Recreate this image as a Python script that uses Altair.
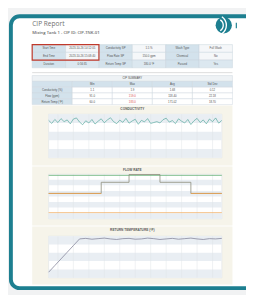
import altair as alt
import pandas as pd

# ---------------- values ----------------
report_title = "CIP Report"
report_subtitle = "Mixing Tank 1 - CIP ID: CIP-TNK-01"

info_rows = [
    ["Start Time", "2023-10-26 14:12:05", "Conductivity SP", "1.5 %", "Wash Type", "Full Wash"],
    ["End Time", "2023-10-26 15:08:40", "Flow Rate SP", "150.0 gpm", "Chemical", "No"],
    ["Duration", "0:56:35", "Return Temp SP", "180.0 °F", "Passed", "Yes"],
]
highlight_rows = [0, 1]
highlight_cols = [0, 1]

summary_title = "CIP SUMMARY"
summary_columns = ["", "Min", "Max", "Avg", "Std Dev"]
summary_labels = ["Conductivity (%)", "Flow (gpm)", "Return Temp (°F)"]
summary_min = ["1.1", "91.0", "60.0"]
summary_max = ["1.9", "159.0", "183.0"]
summary_avg = ["1.68", "118.40", "171.02"]
summary_std = ["0.12", "22.18", "18.70"]
summary_max_alert = [False, True, True]

run_day = "2023-10-26"
chart_start = "14:12"
chart_end = "15:08"
grid_times = ["14:15", "14:20", "14:25", "14:30", "14:35", "14:40",
              "14:45", "14:50", "14:55", "15:00", "15:05"]

cond_title = "CONDUCTIVITY"
cond_unit = "%"
cond_ticks = [0.0, 0.4, 0.8, 1.2, 1.6, 2.0]
cond_values = [1.72, 1.58, 1.76, 1.62, 1.80, 1.66, 1.74, 1.56, 1.78, 1.83,
               1.64, 1.52, 1.70, 1.60, 1.76, 1.55, 1.68, 1.79, 1.61, 1.74,
               1.84, 1.66, 1.57, 1.73, 1.63, 1.81, 1.59, 1.69, 1.77, 1.54,
               1.72, 1.65, 1.80, 1.58, 1.62, 1.66, 1.60, 1.75, 1.82, 1.64,
               1.71, 1.57, 1.79, 1.68, 1.60, 1.76, 1.53, 1.70, 1.81, 1.62,
               1.74, 1.56, 1.78, 1.66, 1.83, 1.59, 1.72]

flow_title = "FLOW RATE"
flow_unit = "gpm"
flow_ticks = [0, 20, 40, 60, 80, 100, 120, 140, 160]
flow_times = ["14:12", "14:29", "14:29", "14:38", "14:38", "14:48", "14:48", "14:58", "14:58", "15:08"]
flow_values = [91, 91, 131, 131, 159, 159, 131, 131, 91, 91]
flow_low_times = ["14:12", "14:29", "14:58", "15:08"]
flow_low_values = [91, 91, 91, 91]
flow_low_phase = ["pre-rinse", "pre-rinse", "final rinse", "final rinse"]
flow_setpoint = 156
flow_low_limit = 22

temp_title = "RETURN TEMPERATURE (°F)"
temp_unit = "°F"
temp_ticks = [40, 70, 100, 130, 160, 190]
temp_times = ["14:12", "14:14", "14:16", "14:18", "14:20", "14:22", "14:24", "14:26",
              "14:28", "14:30", "14:32", "14:34", "14:36", "14:38", "14:40", "14:42",
              "14:44", "14:46", "14:48", "14:50", "14:52", "14:54", "14:56", "14:58",
              "15:00", "15:02", "15:04", "15:06", "15:08"]
temp_values = [60, 84, 108, 132, 156, 180, 182, 179, 181, 183, 180, 178, 181, 182, 179,
               180, 183, 181, 178, 180, 182, 179, 181, 183, 180, 178, 181, 180, 182]

# ---------------- helpers ----------------
W, H = 246, 287
TEAL = "#1d7f90"
one = pd.DataFrame({"k": [0]})
Y_, M_, D_ = (int(p) for p in run_day.split("-"))


def ts(hhmm):
    return pd.Timestamp(f"{run_day} {hhmm}")


def dt(hhmm):
    h, m = (int(p) for p in hhmm.split(":"))
    return alt.DateTime(year=Y_, month=M_, date=D_, hours=h, minutes=m)


layers = []

# page frame
layers.append(alt.Chart(one).mark_rect(fill="white", stroke=TEAL, strokeWidth=4, cornerRadius=9)
              .encode(x=alt.value(3), x2=alt.value(262), y=alt.value(3.7), y2=alt.value(284.7)))

# header
layers.append(alt.Chart(one).mark_text(text=report_title, align="left", baseline="alphabetic",
                                       font="Open Sans", fontSize=6.8, color="#707070")
              .encode(x=alt.value(25), y=alt.value(13.5)))
layers.append(alt.Chart(one).mark_text(text=report_subtitle, align="left", baseline="alphabetic",
                                       font="Open Sans", fontSize=4.3, fontWeight=600, color="#666666")
              .encode(x=alt.value(25), y=alt.value(22)))

# logo
layers.append(alt.Chart(one).mark_point(shape="circle", filled=True, size=283, color=TEAL, opacity=1)
              .encode(x=alt.value(223), y=alt.value(13)))
layers.append(alt.Chart(one).mark_arc(radius=7.2, radius2=5.8, theta=0.55, theta2=2.6, color="white")
              .encode(x=alt.value(216), y=alt.value(13)))
layers.append(alt.Chart(one).mark_arc(radius=11.4, radius2=10.0, theta=0.6, theta2=2.55, color="white")
              .encode(x=alt.value(215), y=alt.value(13)))
layers.append(alt.Chart(one).mark_rule(color=TEAL, strokeWidth=1.2)
              .encode(x=alt.value(236), y=alt.value(10.5), y2=alt.value(16)))

# info table
info_records = []
for r, row in enumerate(info_rows):
    for c, txt in enumerate(row):
        kind = "label" if c % 2 == 0 else ("value" if r < 2 else "value_alt")
        info_records.append({"r": r, "c": c, "text": txt, "kind": kind})
info_df = pd.DataFrame(info_records)
ix = alt.Scale(domain=[0, 6], range=[25, 232], nice=False, zero=False)
iy = alt.Scale(domain=[0, 3], range=[33, 57], nice=False, zero=False)
info_base = alt.Chart(info_df).transform_calculate(
    c1="datum.c + 1", r1="datum.r + 1", cm="datum.c + 0.5", rm="datum.r + 0.5")
layers.append(info_base.mark_rect(stroke="#c9d5de", strokeWidth=0.5).encode(
    x=alt.X("c:Q", scale=ix, axis=None), x2="c1:Q",
    y=alt.Y("r:Q", scale=iy, axis=None), y2="r1:Q",
    fill=alt.Fill("kind:N", scale=alt.Scale(domain=["label", "value", "value_alt"],
                                            range=["#d3e2ec", "#f5f7f9", "#dce8f0"]), legend=None)))
layers.append(info_base.mark_text(fontSize=2.9, color="#555555", baseline="middle").encode(
    x=alt.X("cm:Q", scale=ix, axis=None), y=alt.Y("rm:Q", scale=iy, axis=None), text="text:N"))
hl_df = pd.DataFrame({"c0": [min(highlight_cols)], "c1": [max(highlight_cols) + 1],
                      "r0": [min(highlight_rows)], "r1": [max(highlight_rows) + 1]})
layers.append(alt.Chart(hl_df).mark_rect(fillOpacity=0, stroke="#c0392b", strokeWidth=1.2).encode(
    x=alt.X("c0:Q", scale=ix, axis=None), x2="c1:Q",
    y=alt.Y("r0:Q", scale=iy, axis=None), y2="r1:Q"))

# separator
layers.append(alt.Chart(one).mark_rule(color="#d4d4d4", strokeWidth=0.8)
              .encode(x=alt.value(25), x2=alt.value(232), y=alt.value(62)))

# summary table
sum_records = [{"r": 0, "c0": 0, "c1": 5, "text": summary_title, "kind": "title", "tone": "normal"}]
for c, h in enumerate(summary_columns):
    sum_records.append({"r": 1, "c0": c, "c1": c + 1, "text": h, "kind": "head", "tone": "normal"})
for i, lab in enumerate(summary_labels):
    r = i + 2
    sum_records.append({"r": r, "c0": 0, "c1": 1, "text": lab, "kind": "label", "tone": "normal"})
    vals = [summary_min[i], summary_max[i], summary_avg[i], summary_std[i]]
    for j, v in enumerate(vals):
        tone = "alert" if (j == 1 and summary_max_alert[i]) else "normal"
        sum_records.append({"r": r, "c0": j + 1, "c1": j + 2, "text": v, "kind": "cell", "tone": tone})
sum_df = pd.DataFrame(sum_records)
sx = alt.Scale(domain=[0, 5], range=[25, 232], nice=False, zero=False)
sy = alt.Scale(domain=[0, 5], range=[65, 95], nice=False, zero=False)
sum_base = alt.Chart(sum_df).transform_calculate(
    r1="datum.r + 1", cm="(datum.c0 + datum.c1) / 2", rm="datum.r + 0.5")
layers.append(sum_base.mark_rect(stroke="#cfd8df", strokeWidth=0.5).encode(
    x=alt.X("c0:Q", scale=sx, axis=None), x2="c1:Q",
    y=alt.Y("r:Q", scale=sy, axis=None), y2="r1:Q",
    fill=alt.Fill("kind:N", scale=alt.Scale(domain=["title", "head", "label", "cell"],
                                            range=["#eef2f5", "#d3e2ec", "#d3e2ec", "#ffffff"]), legend=None)))
layers.append(sum_base.mark_text(fontSize=2.9, baseline="middle").encode(
    x=alt.X("cm:Q", scale=sx, axis=None), y=alt.Y("rm:Q", scale=sy, axis=None), text="text:N",
    color=alt.Color("tone:N", scale=alt.Scale(domain=["normal", "alert"], range=["#505050", "#d9534f"]),
                    legend=None)))


# chart panels
def chart_panel(title, unit, ticks, fmt, top, bottom, plot_top, plot_bottom, series):
    lo, hi = ticks[0], ticks[-1]
    xs = alt.Scale(domain=[dt(chart_start), dt(chart_end)], range=[42, 221], nice=False)
    ys = alt.Scale(domain=[lo, hi], range=[plot_bottom, plot_top], nice=False, zero=False)
    out = []
    out.append(alt.Chart(one).mark_rect(fill="#f6f4ea")
               .encode(x=alt.value(25), x2=alt.value(232), y=alt.value(top), y2=alt.value(bottom)))
    out.append(alt.Chart(one).mark_text(text=title, fontSize=3.3, fontWeight="bold", color="#5a5a5a",
                                        baseline="middle")
               .encode(x=alt.value(128.5), y=alt.value(top + 4)))
    xaxis = alt.Axis(orient="bottom", offset=-(H - plot_bottom), values=[dt(t) for t in grid_times],
                     format="%m/%d %H:%M", labelFontSize=2.3, labelColor="#7a7a7a",
                     labelOverlap=False, labelFlush=False, domain=False, ticks=False, grid=False,
                     labelPadding=1.2, title=None)
    yaxis = alt.Axis(orient="left", offset=-42, values=ticks, format=fmt, labelFontSize=3.0,
                     labelColor="#7a7a7a", domain=False, ticks=False, grid=False, labelPadding=1.5,
                     title=unit, titleFontSize=3.2, titleColor="#7a7a7a", titleFontWeight="normal",
                     titlePadding=2)
    bg = pd.DataFrame({"t0": [ts(chart_start)], "t1": [ts(chart_end)], "v0": [lo], "v1": [hi]})
    out.append(alt.Chart(bg).mark_rect(fill="white", stroke="#d8dde2", strokeWidth=0.5).encode(
        x=alt.X("t0:T", scale=xs, axis=xaxis), x2="t1:T",
        y=alt.Y("v0:Q", scale=ys, axis=yaxis), y2="v1:Q"))
    stripes = pd.DataFrame({"t0": ts(chart_start), "t1": ts(chart_end),
                            "v0": [ticks[i] for i in range(0, len(ticks) - 1, 2)],
                            "v1": [ticks[i + 1] for i in range(0, len(ticks) - 1, 2)]})
    out.append(alt.Chart(stripes).mark_rect(fill="#e9eef3").encode(
        x=alt.X("t0:T", scale=xs, axis=None), x2="t1:T",
        y=alt.Y("v0:Q", scale=ys, axis=None), y2="v1:Q"))
    vr = pd.DataFrame({"t": [ts(t) for t in grid_times], "v0": lo, "v1": hi})
    out.append(alt.Chart(vr).mark_rule(color="#dfe3e7", strokeWidth=0.5).encode(
        x=alt.X("t:T", scale=xs, axis=None),
        y=alt.Y("v0:Q", scale=ys, axis=None), y2="v1:Q"))
    for make in series:
        out.append(make(xs, ys))
    return out


def line_layer(times, values, color, width=0.7, detail=None):
    def make(xs, ys):
        df = pd.DataFrame({"t": [ts(t) for t in times], "v": values})
        enc = dict(x=alt.X("t:T", scale=xs, axis=None), y=alt.Y("v:Q", scale=ys, axis=None))
        if detail is not None:
            df["g"] = detail
            enc["detail"] = "g:N"
        return alt.Chart(df).mark_line(color=color, strokeWidth=width).encode(**enc)
    return make


cond_times = [t.strftime("%H:%M") for t in
              pd.date_range(f"{run_day} {chart_start}", periods=len(cond_values), freq="1min")]

layers += chart_panel(cond_title, cond_unit, cond_ticks, ".1f", 96, 158, 105, 150,
                      [line_layer(cond_times, cond_values, "#3d9c8e", 0.6)])
layers += chart_panel(flow_title, flow_unit, flow_ticks, "d", 159, 220, 167, 213,
                      [line_layer([chart_start, chart_end], [flow_low_limit, flow_low_limit], "#f2b36b", 0.8),
                       line_layer([chart_start, chart_end], [flow_setpoint, flow_setpoint], "#5fae6e", 0.8),
                       line_layer(flow_times, flow_values, "#8b8b78", 0.8),
                       line_layer(flow_low_times, flow_low_values, "#eaa24f", 0.9, detail=flow_low_phase)])
layers += chart_panel(temp_title, temp_unit, temp_ticks, "d", 221, 281, 231, 274,
                      [line_layer(temp_times, temp_values, "#85859a", 0.8)])

chart = (alt.layer(*layers)
         .resolve_scale(x="independent", y="independent", fill="independent", color="independent")
         .properties(width=W, height=H, autosize=alt.AutoSizeParams(type="none"), padding=0,
                     background="#f1f2f3")
         .configure_view(stroke=None))

chart.save("out.html", embed_options={"renderer": "svg", "actions": False})
